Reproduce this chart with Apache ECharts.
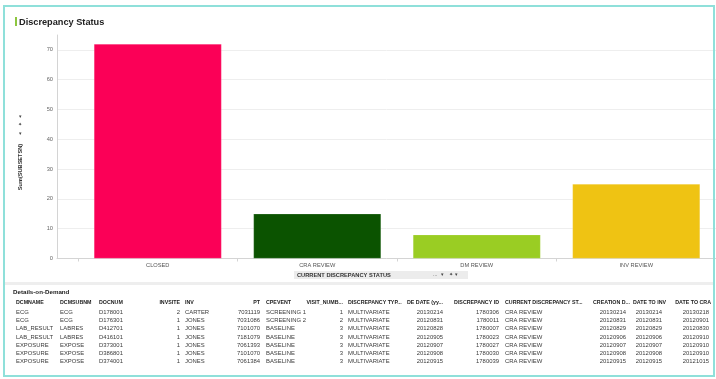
<!DOCTYPE html>
<html>
<head>
<meta charset="utf-8">
<script src="https://cdn.jsdelivr.net/npm/echarts@6/dist/echarts.min.js"></script>
<style>
  html, body { margin: 0; padding: 0; background: #fff; }
  #chart { width: 716px; height: 379px; }
</style>
</head>
<body>
<div id="chart"></div>
<script>
// ---- data ----
const categories = ['CLOSED', 'CRA REVIEW', 'DM REVIEW', 'INV REVIEW'];
const values = [72, 15, 8, 25];
const barColors = ['#fb0057', '#0b5300', '#9acd23', '#efc313'];
const yTickInterval = 10;
const yMaxLabel = 70;
const yMaxAxis = 75;

const tableTitle = 'Details-on-Demand';
const tableHeaders = ['DCMNAME', 'DCMSUBNM', 'DOCNUM', 'INVSITE', 'INV', 'PT', 'CPEVENT', 'VISIT_NUMB...',
  'DISCREPANCY TYP...', 'DE DATE (yy...', 'DISCREPANCY ID', 'CURRENT DISCREPANCY ST...', 'CREATION D...',
  'DATE TO INV', 'DATE TO CRA'];
const row1 = ['ECG', 'ECG', 'D178001', '2', 'CARTER', '7031119', 'SCREENING 1', '1', 'MULTIVARIATE', '20130214', '1780306', 'CRA REVIEW', '20130214', '20130214', '20130218'];
const row2 = ['ECG', 'ECG', 'D176301', '1', 'JONES', '7031086', 'SCREENING 2', '2', 'MULTIVARIATE', '20120831', '1780011', 'CRA REVIEW', '20120831', '20120831', '20120901'];
const row3 = ['LAB_RESULT', 'LABRES', 'D412701', '1', 'JONES', '7101070', 'BASELINE', '3', 'MULTIVARIATE', '20120828', '1780007', 'CRA REVIEW', '20120829', '20120829', '20120830'];
const row4 = ['LAB_RESULT', 'LABRES', 'D416101', '1', 'JONES', '7181079', 'BASELINE', '3', 'MULTIVARIATE', '20120905', '1780023', 'CRA REVIEW', '20120906', '20120906', '20120910'];
const row5 = ['EXPOSURE', 'EXPOSE', 'D373001', '1', 'JONES', '7061393', 'BASELINE', '3', 'MULTIVARIATE', '20120907', '1780027', 'CRA REVIEW', '20120907', '20120907', '20120910'];
const row6 = ['EXPOSURE', 'EXPOSE', 'D386801', '1', 'JONES', '7101070', 'BASELINE', '3', 'MULTIVARIATE', '20120908', '1780030', 'CRA REVIEW', '20120908', '20120908', '20120910'];
const row7 = ['EXPOSURE', 'EXPOSE', 'D374001', '1', 'JONES', '7061384', 'BASELINE', '3', 'MULTIVARIATE', '20120915', '1780039', 'CRA REVIEW', '20120915', '20120915', '20121015'];
const tableRows = [row1, row2, row3, row4, row5, row6, row7];

// ---- layout (table column anchors) ----
const colAnchor = [16, 60, 99, 180, 185, 260, 266, 343, 348, 443, 499, 505, 626, 662, 709];
const colAlign = ['left', 'left', 'left', 'right', 'left', 'right', 'left', 'right', 'left', 'right', 'right', 'left', 'right', 'right', 'right'];
const headAnchor = [16, 60, 99, 180, 185, 260, 266, 343, 348, 407, 499, 505, 630, 666, 711];
const headAlign = ['left', 'left', 'left', 'right', 'left', 'right', 'left', 'right', 'left', 'left', 'right', 'left', 'right', 'right', 'right'];

const FONT = 'Liberation Sans, Arial, sans-serif';
const chart = echarts.init(document.getElementById('chart'), null, { renderer: 'canvas' });

const graphics = [];
// frame
graphics.push({ type: 'rect', shape: { x: 4, y: 6, width: 710, height: 370 }, style: { fill: 'none', stroke: '#8fe0da', lineWidth: 2 }, z: 100 });
// title marker + title
graphics.push({ type: 'rect', shape: { x: 15, y: 17, width: 2, height: 9 }, style: { fill: '#8dc63f' } });
graphics.push({ type: 'text', x: 19, y: 22, style: { text: 'Discrepancy Status', font: 'bold 9.2px ' + FONT, fill: '#222', verticalAlign: 'middle' } });
// y axis name + controls
graphics.push({ type: 'text', x: 20, y: 167, rotation: Math.PI / 2, style: { text: 'Sum(SUBSETSN)', font: 'bold 5.6px ' + FONT, fill: '#333', align: 'center', verticalAlign: 'middle' } });
graphics.push({ type: 'text', x: 20, y: 117, style: { text: '▾', font: '5px ' + FONT, fill: '#444', align: 'center', verticalAlign: 'middle' } });
graphics.push({ type: 'text', x: 20, y: 125, style: { text: '✦', font: '5px ' + FONT, fill: '#444', align: 'center', verticalAlign: 'middle' } });
graphics.push({ type: 'text', x: 20, y: 134, style: { text: '▾', font: '5px ' + FONT, fill: '#444', align: 'center', verticalAlign: 'middle' } });
// x axis name box
graphics.push({ type: 'rect', shape: { x: 294, y: 271, width: 174, height: 8 }, style: { fill: '#ececec' } });
graphics.push({ type: 'text', x: 297, y: 275, style: { text: 'CURRENT DISCREPANCY STATUS', font: 'bold 5.7px ' + FONT, fill: '#333', verticalAlign: 'middle' } });
graphics.push({ type: 'text', x: 433, y: 275, style: { text: '...   ▾   ✦  ▾', font: '5px ' + FONT, fill: '#444', verticalAlign: 'middle' } });
// divider between chart and table
graphics.push({ type: 'rect', shape: { x: 5, y: 282, width: 708, height: 3 }, style: { fill: '#eeeeee' } });
// table
graphics.push({ type: 'text', x: 13, y: 292.5, style: { text: tableTitle, font: 'bold 6.2px ' + FONT, fill: '#222', verticalAlign: 'middle' } });
tableHeaders.forEach((h, i) => {
  graphics.push({ type: 'text', x: headAnchor[i], y: 303, style: { text: h, font: 'bold 5.3px ' + FONT, fill: '#222', align: headAlign[i], verticalAlign: 'middle' } });
});
tableRows.forEach((r, ri) => {
  r.forEach((v, ci) => {
    graphics.push({ type: 'text', x: colAnchor[ci], y: 312 + ri * 8.3, style: { text: v, font: '5.9px ' + FONT, fill: '#3a3a3a', align: colAlign[ci], verticalAlign: 'middle' } });
  });
});

const option = {
  animation: false,
  backgroundColor: '#fff',
  grid: [
    { left: 57, top: 35, width: 663, height: 223.5 },
    { left: 57, top: 35 + 223.5 * (1 - yMaxLabel / yMaxAxis), width: 663, height: 223.5 * yMaxLabel / yMaxAxis },
    { left: 78, top: 35, width: 642, height: 223.5 }
  ],
  xAxis: [
    { gridIndex: 0, type: 'value', min: 0, max: 1, axisLine: { show: true, lineStyle: { color: '#d4d4d4' } }, axisTick: { show: false }, axisLabel: { show: false }, splitLine: { show: false } },
    { gridIndex: 1, type: 'value', min: 0, max: 1, show: false },
    { gridIndex: 2, type: 'category', data: categories, boundaryGap: true,
      axisLine: { show: false }, axisTick: { show: true, length: 3, lineStyle: { color: '#d4d4d4' } },
      axisLabel: { margin: 4, fontSize: 5.7, color: '#555', fontFamily: FONT, interval: 0 } }
  ],
  yAxis: [
    { gridIndex: 0, type: 'value', min: 0, max: yMaxAxis, axisLine: { show: true, lineStyle: { color: '#d4d4d4' } }, axisTick: { show: false }, axisLabel: { show: false }, splitLine: { show: false } },
    { gridIndex: 1, type: 'value', min: 0, max: yMaxLabel, interval: yTickInterval,
      axisLine: { show: false }, axisTick: { show: false },
      axisLabel: { margin: 4, fontSize: 5.7, color: '#666', fontFamily: FONT },
      splitLine: { show: true, lineStyle: { color: '#eeeeee' } } },
    { gridIndex: 2, type: 'value', min: 0, max: yMaxAxis, show: false }
  ],
  series: [{
    type: 'bar',
    xAxisIndex: 2,
    yAxisIndex: 2,
    barWidth: '80%',
    data: values.map((v, i) => ({ value: v, itemStyle: { color: barColors[i], borderColor: 'rgba(255,255,255,0.35)', borderWidth: 0.5 } }))
  }],
  graphic: graphics
};
chart.setOption(option);
</script>
</body>
</html>
